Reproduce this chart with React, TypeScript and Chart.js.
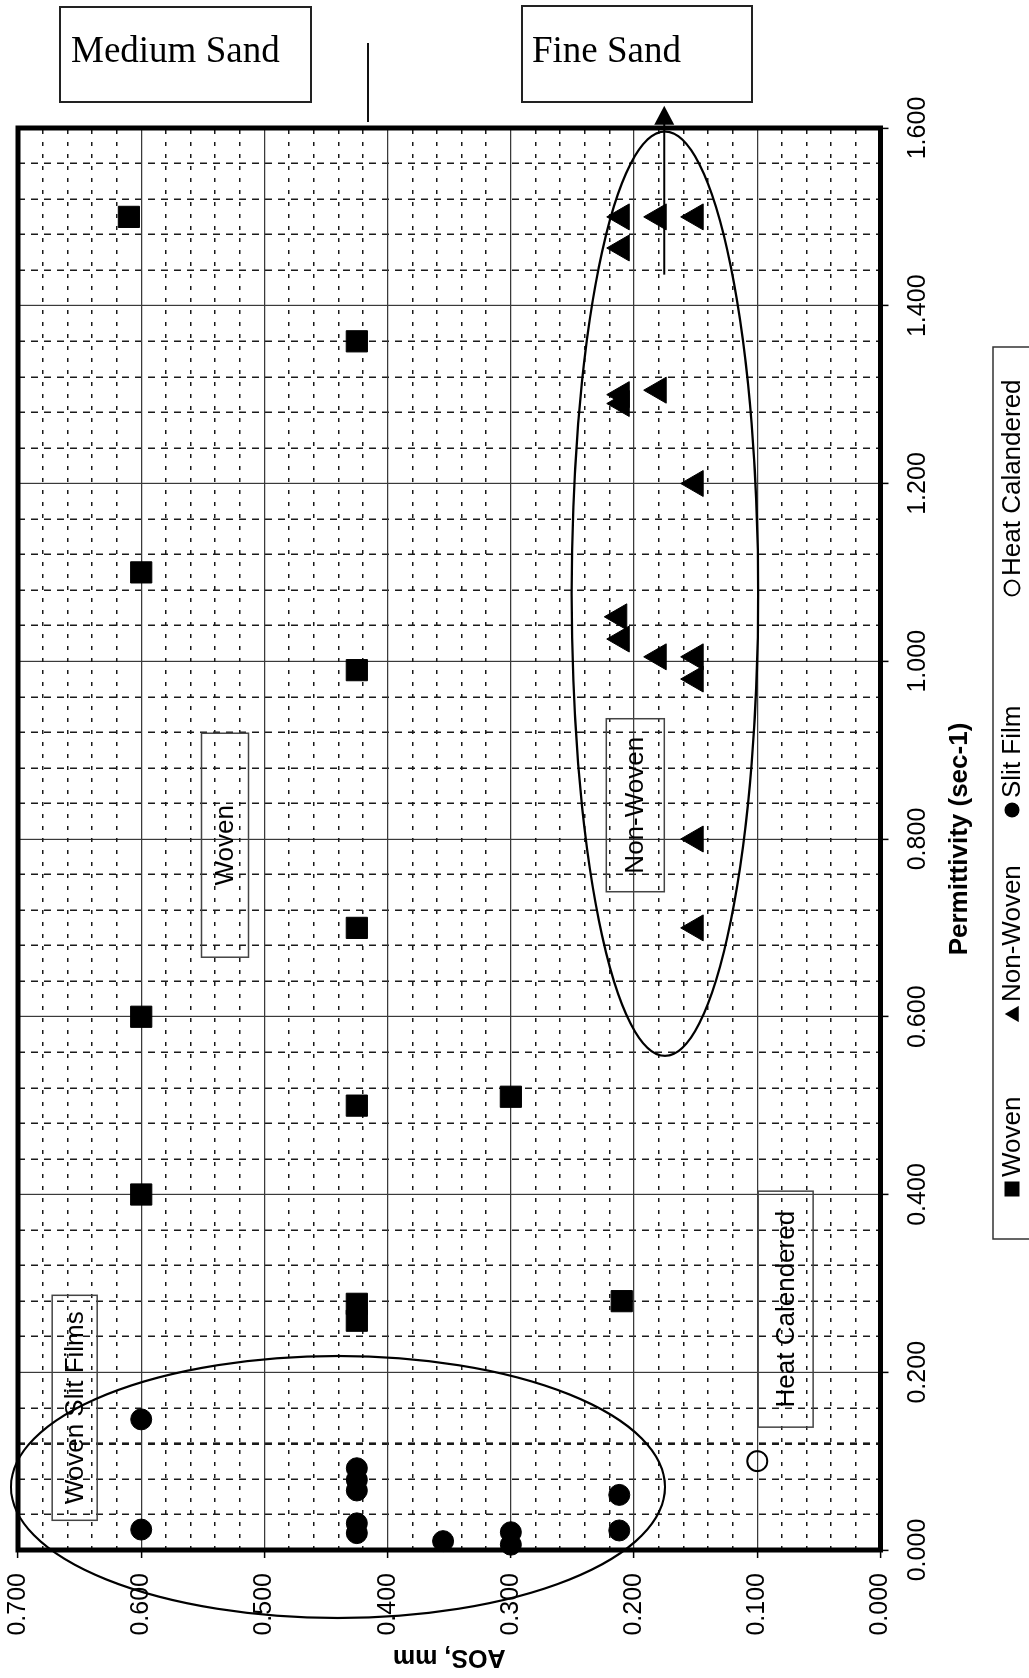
import React, { useEffect, useRef } from 'react';
import { Chart, registerables } from 'chart.js';

Chart.register(...registerables);

const SANS = '"Liberation Sans", Arial, Helvetica, sans-serif';
const SERIF = '"Liberation Serif", "Times New Roman", Times, serif';

// ---- data (x = permittivity, sec-1 ; y = AOS, mm) ----
const seriesNames = ['Woven', 'Non-Woven', 'Slit Film', 'Heat Calandered'];

const wovenPermittivity = [1.5, 1.36, 1.1, 0.99, 0.7, 0.6, 0.5, 0.51, 0.4, 0.277, 0.258, 0.28];
const wovenAOS = [0.61, 0.425, 0.6, 0.425, 0.425, 0.6, 0.425, 0.3, 0.6, 0.425, 0.425, 0.21];

const nonWovenPermittivity = [1.5, 1.5, 1.5, 1.465, 1.3, 1.29, 1.305, 1.2, 1.05, 1.025, 1.005, 1.005, 0.98, 0.8, 0.7];
const nonWovenAOS = [0.21, 0.18, 0.15, 0.21, 0.21, 0.21, 0.18, 0.15, 0.212, 0.21, 0.18, 0.15, 0.15, 0.15, 0.15];

const slitFilmPermittivity = [0.147, 0.023, 0.092, 0.079, 0.067, 0.03, 0.019, 0.01, 0.02, 0.006, 0.062, 0.022];
const slitFilmAOS = [0.6, 0.6, 0.425, 0.425, 0.425, 0.425, 0.425, 0.355, 0.3, 0.3, 0.212, 0.212];

const heatCalanderedPermittivity = [0.1];
const heatCalanderedAOS = [0.1];

const permittivityTickLabels = [0, 0.2, 0.4, 0.6, 0.8, 1.0, 1.2, 1.4, 1.6];
const aosTickLabels = [0, 0.1, 0.2, 0.3, 0.4, 0.5, 0.6, 0.7];

// ---- annotations (data-space centres) ----
const labelBoxes = [
  { text: 'Woven Slit Films', perm: 0.16, aos: 0.654, w: 225, h: 45 },
  { text: 'Woven', perm: 0.793, aos: 0.532, w: 224, h: 47 },
  { text: 'Non-Woven', perm: 0.838, aos: 0.199, w: 173, h: 58 },
  { text: 'Heat Calendered', perm: 0.271, aos: 0.077, w: 236, h: 55 },
];
const groupEllipses = [
  { perm: 1.076, aos: 0.175, rPerm: 0.52, rAos: 0.0757 },
  { perm: 0.0709, aos: 0.4403, rPerm: 0.1474, rAos: 0.2654 },
];
const fineSandArrow = { aos: 0.1755, fromPerm: 1.435, toPerm: 1.625 };
const legendMarkerPos = [489, 664, 868, 1090];

const CW = 1588;
const CH = 1029;
const AREA = { left: 128, right: 1550, top: 18, bottom: 880.5 };

const near = (v: number, list: number[]) => list.some((t) => Math.abs(t - v) < 1e-6);

function drawMarker(ctx: CanvasRenderingContext2D, style: string, x: number, y: number, r: number, filled: boolean) {
  ctx.beginPath();
  if (style === 'rect') {
    ctx.rect(x - r, y - r, 2 * r, 2 * r);
  } else if (style === 'triangle') {
    for (let k = 0; k < 3; k++) {
      const a = (k * 2 * Math.PI) / 3;
      const px = x + Math.sin(a) * r * 1.25;
      const py = y + 2 - Math.cos(a) * r * 1.25;
      if (k === 0) ctx.moveTo(px, py);
      else ctx.lineTo(px, py);
    }
    ctx.closePath();
  } else {
    ctx.arc(x, y, r, 0, Math.PI * 2);
  }
  if (filled) {
    ctx.fillStyle = '#000';
    ctx.fill();
  } else {
    ctx.lineWidth = 1.8;
    ctx.strokeStyle = '#000';
    ctx.stroke();
  }
}

const decorPlugin = {
  id: 'decor',
  beforeDatasetsDraw(chart: any) {
    const { ctx, chartArea: a, scales } = chart;
    const xs = scales.x;
    const ys = scales.y;
    ctx.save();
    // plot frame
    ctx.lineWidth = 5;
    ctx.strokeStyle = '#000';
    ctx.strokeRect(a.left, a.top, a.right - a.left, a.bottom - a.top);
    // label boxes
    ctx.font = `26px ${SANS}`;
    ctx.textAlign = 'center';
    ctx.textBaseline = 'middle';
    for (const b of labelBoxes) {
      const cx = xs.getPixelForValue(b.perm);
      const cy = ys.getPixelForValue(b.aos);
      ctx.lineWidth = 1.5;
      ctx.strokeStyle = '#444';
      ctx.strokeRect(cx - b.w / 2, cy - b.h / 2, b.w, b.h);
      ctx.fillStyle = '#000';
      ctx.fillText(b.text, cx, cy + 1);
    }
    ctx.restore();
  },
  afterDraw(chart: any) {
    const { ctx, scales } = chart;
    const xs = scales.x;
    const ys = scales.y;
    ctx.save();
    // ellipses
    ctx.lineWidth = 2.2;
    ctx.strokeStyle = '#000';
    for (const e of groupEllipses) {
      const cx = xs.getPixelForValue(e.perm);
      const cy = ys.getPixelForValue(e.aos);
      const rx = Math.abs(xs.getPixelForValue(e.perm + e.rPerm) - cx);
      const ry = Math.abs(ys.getPixelForValue(e.aos + e.rAos) - cy);
      ctx.beginPath();
      ctx.ellipse(cx, cy, rx, ry, 0, 0, Math.PI * 2);
      ctx.stroke();
    }
    // arrow
    const ay = ys.getPixelForValue(fineSandArrow.aos);
    const x0 = xs.getPixelForValue(fineSandArrow.fromPerm);
    const x1 = xs.getPixelForValue(fineSandArrow.toPerm);
    ctx.lineWidth = 1.8;
    ctx.beginPath();
    ctx.moveTo(x0, ay);
    ctx.lineTo(x1 - 16, ay);
    ctx.stroke();
    ctx.beginPath();
    ctx.moveTo(x1, ay);
    ctx.lineTo(x1 - 19, ay - 10);
    ctx.lineTo(x1 - 19, ay + 10);
    ctx.closePath();
    ctx.fillStyle = '#000';
    ctx.fill();

    // legend
    const lv = 1012;
    ctx.lineWidth = 1.5;
    ctx.strokeStyle = '#333';
    ctx.strokeRect(439, 993, 892, 80);
    ctx.font = `26px ${SANS}`;
    ctx.textAlign = 'left';
    ctx.textBaseline = 'middle';
    const styles = ['rect', 'triangle', 'circle', 'circle'];
    const fills = [true, true, true, false];
    chart.data.datasets.forEach((ds: any, i: number) => {
      const mu = legendMarkerPos[i];
      drawMarker(ctx, styles[i], mu, lv, 7.5, fills[i]);
      ctx.fillStyle = '#000';
      ctx.fillText(ds.label, mu + 12, lv + 1);
    });
    ctx.restore();
  },
};

function gridOpts(majors: number[], heavy: number[], minorDash: number[]) {
  const isMajor = (c: any) => c && c.tick && near(c.tick.value, majors);
  return {
    grid: {
      color: (c: any) => (isMajor(c) ? '#3a3a3a' : '#1a1a1a'),
      lineWidth: (c: any) => (isMajor(c) ? 1.2 : c && c.tick && near(c.tick.value, heavy) ? 2.6 : 1.5),
      tickLength: 8,
      tickWidth: 1.5,
      tickColor: (c: any) => (isMajor(c) ? '#000' : 'rgba(0,0,0,0)'),
    },
    border: {
      display: false,
      dash: (c: any) => (isMajor(c) || !(c && c.tick) ? [] : minorDash),
    },
  };
}

export default function App() {
  const canvasRef = useRef<HTMLCanvasElement | null>(null);

  useEffect(() => {
    const canvas = canvasRef.current;
    if (!canvas) return;
    const toPts = (xs: number[], ys: number[]) => xs.map((v, i) => ({ x: v, y: ys[i] }));
    const xGrid = gridOpts(permittivityTickLabels, [0.12], [7, 6]);
    const yGrid = gridOpts(aosTickLabels, [], [4, 8]);

    const chart = new Chart(canvas, {
      type: 'scatter',
      data: {
        datasets: [
          {
            label: seriesNames[0],
            data: toPts(wovenPermittivity, wovenAOS),
            pointStyle: 'rect',
            pointRadius: 15,
            backgroundColor: '#000',
            borderColor: '#000',
            borderWidth: 1,
            clip: false,
          },
          {
            label: seriesNames[1],
            data: toPts(nonWovenPermittivity, nonWovenAOS),
            pointStyle: 'triangle',
            pointRadius: 15,
            backgroundColor: '#000',
            borderColor: '#000',
            borderWidth: 1,
            clip: false,
          },
          {
            label: seriesNames[2],
            data: toPts(slitFilmPermittivity, slitFilmAOS),
            pointStyle: 'circle',
            pointRadius: 10.5,
            backgroundColor: '#000',
            borderColor: '#000',
            borderWidth: 1,
            clip: false,
          },
          {
            label: seriesNames[3],
            data: toPts(heatCalanderedPermittivity, heatCalanderedAOS),
            pointStyle: 'circle',
            pointRadius: 10,
            backgroundColor: 'rgba(0,0,0,0)',
            borderColor: '#000',
            borderWidth: 2,
            clip: false,
          },
        ],
      } as any,
      options: {
        responsive: false,
        animation: false,
        devicePixelRatio: 1,
        events: [],
        layout: { autoPadding: false, padding: { left: 0, right: CW - AREA.right, top: AREA.top, bottom: 0 } },
        plugins: {
          legend: { display: false },
          tooltip: { enabled: false },
          title: { display: false },
        },
        scales: {
          x: {
            type: 'linear',
            position: 'bottom',
            min: 0,
            max: 1.6,
            ticks: {
              stepSize: 0.04,
              autoSkip: false,
              maxRotation: 0,
              minRotation: 0,
              padding: 15,
              color: '#000',
              font: { family: SANS, size: 25 },
              callback: (v: any) => (near(Number(v), permittivityTickLabels) ? Number(v).toFixed(3) : ''),
            },
            ...xGrid,
            title: {
              display: true,
              text: 'Permittivity (sec-1)',
              color: '#000',
              font: { family: SANS, size: 26, weight: 'bold' },
              padding: { top: 0, bottom: 54 },
            },
            afterFit: (s: any) => {
              s.height = CH - AREA.bottom;
              s.paddingLeft = 0;
              s.paddingRight = 0;
            },
          },
          y: {
            type: 'linear',
            position: 'left',
            min: 0,
            max: 0.7,
            ticks: {
              stepSize: 0.02,
              autoSkip: false,
              padding: 15,
              color: '#000',
              font: { family: SANS, size: 25 },
              callback: (v: any) => (near(Number(v), aosTickLabels) ? Number(v).toFixed(3) : ''),
            },
            ...yGrid,
            title: {
              display: true,
              text: 'AOS, mm',
              color: '#000',
              font: { family: SANS, size: 25, weight: 'bold' },
              padding: { top: 6, bottom: 0 },
            },
            afterFit: (s: any) => {
              s.width = AREA.left;
              s.paddingTop = 0;
              s.paddingBottom = 0;
            },
          },
        },
      } as any,
      plugins: [decorPlugin],
    });
    return () => chart.destroy();
  }, []);

  const boxStyle = (left: number, top: number, width: number, height: number): React.CSSProperties => ({
    position: 'absolute',
    left,
    top,
    width,
    height,
    border: '2px solid #222',
    boxSizing: 'border-box',
  });
  const sandText = (left: number): React.CSSProperties => ({
    position: 'absolute',
    left,
    top: 31,
    fontFamily: SERIF,
    fontSize: 37,
    lineHeight: '37px',
    whiteSpace: 'nowrap',
    color: '#000',
  });

  return (
    <div
      style={{
        position: 'absolute',
        left: 0,
        top: 0,
        width: 1029,
        height: 1678,
        overflow: 'hidden',
        background: '#fff',
      }}
    >
      <div
        style={{
          position: 'absolute',
          left: 0,
          top: 0,
          width: CW,
          height: CH,
          transformOrigin: '0 0',
          transform: 'translate(0px, 1678px) rotate(-90deg)',
        }}
      >
        <canvas ref={canvasRef} width={CW} height={CH} style={{ display: 'block', width: CW, height: CH }} />
      </div>
      <div style={boxStyle(59, 6, 253, 97)} />
      <div style={sandText(71)}>Medium Sand</div>
      <div style={boxStyle(521, 5, 232, 98)} />
      <div style={sandText(532)}>Fine Sand</div>
      <div style={{ position: 'absolute', left: 367, top: 43, width: 2, height: 79, background: '#111' }} />
    </div>
  );
}
